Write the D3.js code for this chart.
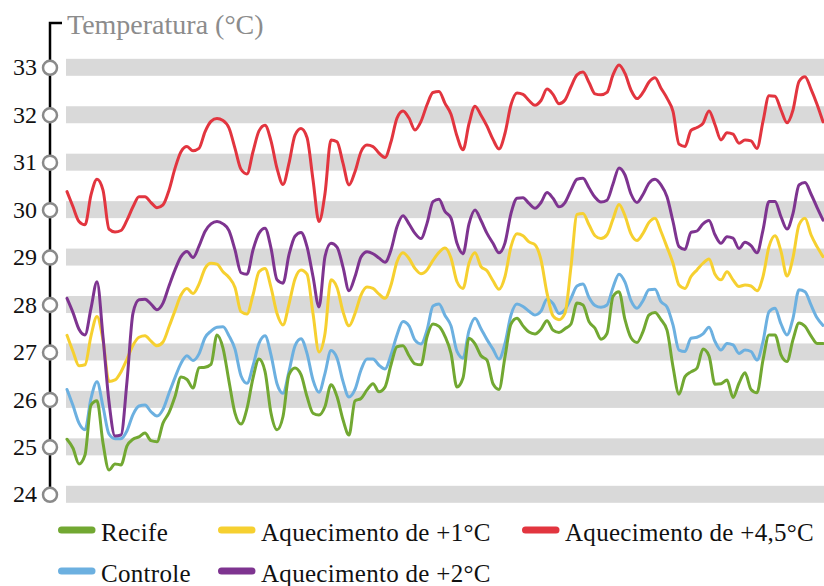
<!DOCTYPE html>
<html>
<head>
<meta charset="utf-8">
<script src="https://cdn.jsdelivr.net/npm/d3@7"></script>
<style>
  body { margin: 0; background: #fff; }
  svg { display: block; }
  text { font-family: "Liberation Serif", "DejaVu Serif", serif; }
</style>
</head>
<body>
<svg id="chart" width="824" height="586"></svg>
<script>
// Temperature scale ticks (°C)
const yTicks = [24, 25, 26, 27, 28, 29, 30, 31, 32, 33];

// Daily temperature series, one value per step along the period
const recife = [
  25.16, 24.97, 24.64, 24.83, 25.88, 25.97, 25.08, 24.51, 24.64, 24.62, 25.02, 25.16, 25.21, 25.29, 25.13, 25.11, 25.5, 25.72, 26.06, 26.47, 26.42,
  26.24, 26.67, 26.68, 26.74, 27.36, 27.08, 26.38, 25.71, 25.48, 25.81, 26.45, 26.85, 26.59, 25.71, 25.36, 25.64, 26.52, 26.66, 26.52, 26.06, 25.71,
  25.67,
  25.85, 26.31, 26.06, 25.57, 25.25, 25.97, 26.02, 26.2, 26.33, 26.16, 26.26, 26.73, 27.11, 27.13, 26.92, 26.75, 26.73, 27.32, 27.59, 27.54, 27.33,
  26.97, 26.26, 26.45, 27.29, 27.17, 26.92, 26.83, 26.33, 26.21, 26.9, 27.59, 27.71, 27.55, 27.42, 27.38, 27.48, 27.66, 27.46, 27.41, 27.49, 27.59, 28.03,
  27.99, 27.64, 27.5, 27.27, 27.39, 28.17, 28.27, 27.68, 27.3, 27.2, 27.43, 27.78, 27.83, 27.68, 27.46, 26.69, 26.11, 26.48, 26.58, 26.66, 27.06,
  26.92, 26.32, 26.33, 26.41, 26.04, 26.34, 26.56, 26.21, 26.14, 26.83, 27.36, 27.36, 26.94, 26.8, 27.26, 27.61, 27.54, 27.34, 27.18, 27.18
];
const controle = [
  26.21, 25.87, 25.5, 25.36, 26.02, 26.37, 25.85, 25.27, 25.17, 25.17, 25.34, 25.68, 25.86, 25.88, 25.74, 25.65, 25.79, 26.13, 26.46, 26.76, 26.92,
  26.82, 26.96, 27.3, 27.44, 27.52, 27.53, 27.34, 27.06, 26.5, 26.34, 26.71, 27.18, 27.34, 26.94, 26.33, 26.13, 26.59, 27.13, 27.28, 26.97, 26.41,
  26.15,
  26.55, 27.03, 26.87, 26.38, 26.05, 26.21, 26.62, 26.85, 26.85, 26.72, 26.64, 26.94, 27.36, 27.64, 27.55, 27.25, 27.17, 27.46, 27.97, 28.01, 27.77,
  27.55, 27.01, 26.87, 27.45, 27.71, 27.49, 27.26, 27.06, 26.85, 27.18, 27.78, 28.01, 27.96, 27.86, 27.78, 27.86, 28.11, 28.02, 27.81, 27.89, 28.13, 28.39,
  28.43, 28.15, 27.98, 27.94, 27.99, 28.36, 28.64, 28.47, 28.08, 27.92, 28.08, 28.31, 28.32, 28.06, 27.95, 27.57, 27.04, 27.01, 27.29, 27.31, 27.38,
  27.52, 27.22, 27.04, 27.18, 27.15, 26.97, 27.04, 27.01, 26.83, 27.22, 27.85, 27.92, 27.59, 27.36, 27.71, 28.31, 28.27, 27.99, 27.72, 27.56
];
const aquec1 = [
  27.35, 27.01, 26.71, 26.73, 27.34, 27.75, 27.25, 26.38, 26.41, 26.58, 26.85, 27.14, 27.31, 27.34, 27.23, 27.13, 27.21, 27.53, 27.87, 28.2, 28.34,
  28.23, 28.43, 28.76, 28.87, 28.85, 28.69, 28.57, 28.36, 27.85, 27.8, 28.2, 28.69, 28.76, 28.36, 27.81, 27.57, 28.01, 28.54, 28.73, 28.64, 27.81,
  27.0,
  27.39, 28.52, 28.36, 27.85, 27.55, 27.81, 28.2, 28.37, 28.34, 28.22, 28.13, 28.41, 28.9, 29.09, 28.97, 28.76, 28.65, 28.73, 28.93, 29.1, 29.19,
  28.98, 28.48, 28.34, 28.87, 29.09, 28.8, 28.71, 28.5, 28.32, 28.59, 29.22, 29.49, 29.45, 29.32, 29.26, 28.94, 28.24, 27.76, 27.68, 27.82, 28.8, 29.9,
  29.92, 29.68, 29.45, 29.39, 29.47, 29.8, 30.11, 29.87, 29.49, 29.35, 29.5, 29.73, 29.82, 29.54, 29.21, 28.87, 28.41, 28.34, 28.59, 28.73, 28.87,
  28.96, 28.64, 28.52, 28.69, 28.52, 28.38, 28.41, 28.39, 28.29, 28.59, 29.22, 29.45, 29.12, 28.6, 28.99, 29.68, 29.82, 29.47, 29.22, 29.01
];
const aquec2 = [
  28.13, 27.83, 27.48, 27.36, 27.92, 28.48, 27.32, 25.95, 25.23, 25.25, 26.38, 27.82, 28.1, 28.11, 28.01, 27.89, 28.03, 28.39, 28.73, 29.01, 29.12,
  28.99, 29.23, 29.54, 29.7, 29.75, 29.7, 29.56, 29.15, 28.67, 28.64, 29.15, 29.5, 29.61, 29.19, 28.52, 28.45, 29.05, 29.44, 29.52, 29.22, 28.59,
  27.95,
  29.01, 29.29, 29.21, 28.79, 28.29, 28.59, 29.0, 29.11, 29.07, 28.98, 28.89, 29.15, 29.64, 29.87, 29.7, 29.5, 29.39, 29.71, 30.17, 30.22, 29.96,
  29.82, 29.29, 29.07, 29.7, 29.99, 29.77, 29.5, 29.29, 29.09, 29.3, 29.92, 30.24, 30.25, 30.13, 30.03, 30.15, 30.36, 30.24, 30.06, 30.15, 30.41, 30.64,
  30.66, 30.46, 30.26, 30.16, 30.2, 30.54, 30.88, 30.73, 30.33, 30.15, 30.32, 30.56, 30.64, 30.52, 30.27, 29.75, 29.22, 29.16, 29.52, 29.55, 29.7,
  29.77, 29.47, 29.29, 29.43, 29.4, 29.18, 29.31, 29.24, 29.09, 29.57, 30.17, 30.17, 29.85, 29.59, 29.92, 30.52, 30.57, 30.33, 30.05, 29.78
];
const aquec45 = [
  30.38, 30.06, 29.75, 29.68, 30.31, 30.64, 30.41, 29.59, 29.53, 29.56, 29.78, 30.06, 30.27, 30.27, 30.15, 30.04, 30.1, 30.41, 30.87, 31.22, 31.33,
  31.24, 31.29, 31.64, 31.86, 31.92, 31.88, 31.72, 31.29, 30.85, 30.75, 31.22, 31.66, 31.78, 31.45, 30.87, 30.53, 30.98, 31.57, 31.71, 31.52, 30.63,
  29.75,
  30.34, 31.47, 31.43, 30.98, 30.52, 30.8, 31.22, 31.36, 31.33, 31.19, 31.1, 31.43, 31.93, 32.08, 31.93, 31.68, 31.86, 32.21, 32.47, 32.49, 32.24,
  32.01, 31.55, 31.26, 31.81, 32.18, 31.99, 31.76, 31.48, 31.28, 31.61, 32.21, 32.46, 32.43, 32.3, 32.2, 32.3, 32.54, 32.43, 32.23, 32.31, 32.59, 32.84,
  32.9, 32.68, 32.44, 32.42, 32.47, 32.84, 33.05, 32.87, 32.52, 32.34, 32.47, 32.69, 32.78, 32.56, 32.35, 32.07, 31.38, 31.33, 31.67, 31.73, 31.82,
  32.08, 31.79, 31.47, 31.62, 31.59, 31.4, 31.47, 31.45, 31.29, 31.86, 32.4, 32.39, 32.1, 31.83, 32.1, 32.7, 32.8, 32.54, 32.22, 31.85
];

const seriesNames = ["Recife", "Controle", "Aquecimento de +1°C", "Aquecimento de +2°C", "Aquecimento de +4,5°C"];
const seriesValues = [recife, controle, aquec1, aquec2, aquec45];
const seriesColors = ["#72a832", "#6cb0e0", "#f6d030", "#7e3490", "#e2353f"];

const svg = d3.select("#chart");
const W = 824;

const x = d3.scaleLinear().domain([0, recife.length - 1]).range([67, 823]);
const y = d3.scaleLinear().domain([24, 33]).range([494.3, 67.3]);

// Horizontal grey bands at each degree
svg.append("g").selectAll("rect")
  .data(yTicks)
  .join("rect")
  .attr("x", 66)
  .attr("width", W - 66)
  .attr("y", d => y(d) - 8.5)
  .attr("height", 17)
  .attr("fill", "#d9d9d9");

// Temperature lines
const line = d3.line()
  .x((d, i) => x(i))
  .y(d => y(d))
  .curve(d3.curveMonotoneX);

const drawOrder = [1, 0, 2, 3, 4];
svg.append("g").selectAll("path")
  .data(drawOrder)
  .join("path")
  .attr("d", k => line(seriesValues[k]))
  .attr("fill", "none")
  .attr("stroke", k => seriesColors[k])
  .attr("stroke-width", 3)
  .attr("stroke-linejoin", "round")
  .attr("stroke-linecap", "round");

// Vertical axis with hooked top
const axisX = 50;
svg.append("path")
  .attr("d", `M${axisX},${y(24)} V23 H62`)
  .attr("fill", "none")
  .attr("stroke", "#000")
  .attr("stroke-width", 2.5);

const axis = d3.axisLeft(y)
  .tickValues(yTicks)
  .tickSize(0)
  .tickPadding(13)
  .tickFormat(d3.format("d"));

const gAxis = svg.append("g")
  .attr("transform", `translate(${axisX},0)`)
  .call(axis);
gAxis.select(".domain").remove();
gAxis.selectAll(".tick text")
  .attr("font-family", "Liberation Serif, DejaVu Serif, serif")
  .attr("font-size", 24)
  .attr("fill", "#111");
gAxis.selectAll(".tick").append("circle")
  .attr("r", 7)
  .attr("fill", "#fff")
  .attr("stroke", "#8a8a8a")
  .attr("stroke-width", 2.5);

// Axis title
svg.append("text")
  .attr("x", 67)
  .attr("y", 34)
  .attr("font-size", 28)
  .attr("fill", "#8c8c8c")
  .text("Temperatura (°C)");

// Legend
const legendPos = [
  { k: 0, sx: 58, ty: 541, ly: 530 },
  { k: 2, sx: 218, ty: 541, ly: 530 },
  { k: 4, sx: 522, ty: 541, ly: 530 },
  { k: 1, sx: 58, ty: 582, ly: 571 },
  { k: 3, sx: 218, ty: 582, ly: 571 }
];
const lg = svg.append("g").selectAll("g")
  .data(legendPos)
  .join("g");
lg.append("line")
  .attr("x1", d => d.sx + 3.5)
  .attr("x2", d => d.sx + 34)
  .attr("y1", d => d.ly)
  .attr("y2", d => d.ly)
  .attr("stroke", d => seriesColors[d.k])
  .attr("stroke-width", 7)
  .attr("stroke-linecap", "round");
lg.append("text")
  .attr("x", d => d.sx + 43)
  .attr("y", d => d.ty)
  .attr("font-size", 25)
  .attr("letter-spacing", 0.3)
  .attr("fill", "#111")
  .text(d => seriesNames[d.k]);
</script>
</body>
</html>
